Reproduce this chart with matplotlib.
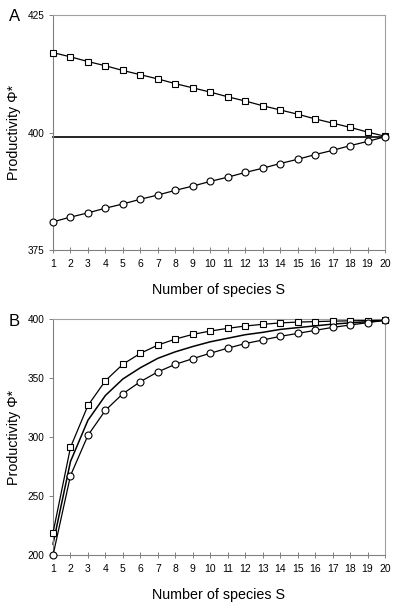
import matplotlib
matplotlib.use("Agg")
import matplotlib.pyplot as plt

plt.rcParams['font.family'] = ['Liberation Sans', 'DejaVu Sans']

species = list(range(1, 21))

# panel A
a_square = [417.0, 416.1, 415.1, 414.2, 413.2, 412.3, 411.4, 410.4, 409.5, 408.6,
            407.6, 406.7, 405.7, 404.8, 403.9, 402.9, 402.0, 401.1, 400.1, 399.2]
a_circle = [381.0, 382.0, 382.9, 383.9, 384.8, 385.8, 386.7, 387.7, 388.6, 389.6,
            390.5, 391.5, 392.4, 393.4, 394.3, 395.3, 396.2, 397.2, 398.1, 399.1]
a_mid = [399.1] * 20

# panel B
b_square = [219.0, 291.5, 327.0, 348.0, 362.0, 371.2, 378.2, 383.3, 387.3, 390.1,
            392.4, 394.4, 395.8, 397.0, 397.7, 398.1, 398.5, 398.8, 399.0, 399.2]
b_circle = [200.0, 267.5, 301.7, 322.9, 337.0, 347.2, 355.5, 361.9, 366.7, 371.3,
            375.6, 379.5, 382.5, 385.6, 388.1, 390.7, 393.2, 395.2, 397.2, 399.2]
b_mid = [209.5, 279.5, 314.5, 335.5, 349.5, 359.0, 367.0, 372.5, 377.0, 381.0,
         384.0, 387.0, 389.0, 391.5, 393.0, 394.5, 396.0, 397.0, 398.0, 399.2]

fig = plt.figure(figsize=(4, 6.08), dpi=100)
axA = fig.add_axes([0.1325, 0.5888, 0.83, 0.3865])
axB = fig.add_axes([0.1325, 0.0867, 0.83, 0.388])


def style(ax, ylim, yticks, letter, letter_y):
    ax.set_xlim(1, 20)
    ax.set_ylim(*ylim)
    ax.set_xticks(species)
    ax.set_yticks(yticks)
    for s in ['top', 'right']:
        ax.spines[s].set_color('#a0a0a0')
        ax.spines[s].set_linewidth(0.8)
    for s in ['left', 'bottom']:
        ax.spines[s].set_color('#808080')
        ax.spines[s].set_linewidth(0.8)
    ax.tick_params(axis='x', direction='inout', length=5, width=0.7, color='#808080',
                   labelsize=7.5, pad=4)
    ax.tick_params(axis='y', direction='out', length=3, width=0.7, color='#808080',
                   labelsize=7.2, pad=3)
    ax.set_xlabel('Number of species S', fontsize=10.3, labelpad=10)
    ax.set_ylabel('Productivity Φ*', fontsize=10.3)
    ax.yaxis.set_label_coords(-0.097, 0.5)
    ax.text(-0.117, letter_y, letter, transform=ax.transAxes, fontsize=12,
            va='center', ha='center')


def draw(ax, sq, ci, mid, mid_lw):
    ax.plot(species, mid, color='black', lw=mid_lw, clip_on=False, zorder=2)
    ax.plot(species, sq, color='black', lw=0.9, marker='s', ms=5, mfc='white',
            mec='black', mew=0.8, clip_on=False, zorder=3)
    ax.plot(species, ci, color='black', lw=0.9, marker='o', ms=5, mfc='white',
            mec='black', mew=0.8, clip_on=False, zorder=3)


draw(axA, a_square, a_circle, a_mid, 1.2)
style(axA, (375, 425), [375, 400, 425], 'A', 0.995)

draw(axB, b_square, b_circle, b_mid, 1.1)
style(axB, (200, 400), [200, 250, 300, 350, 400], 'B', 0.989)

fig.savefig('out.png', dpi=100)
